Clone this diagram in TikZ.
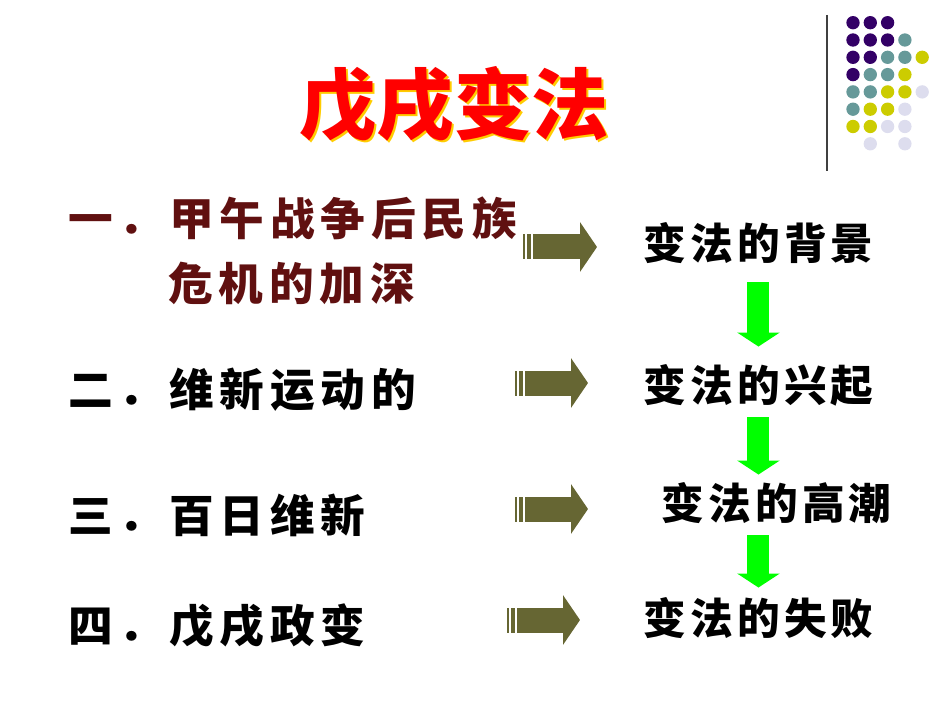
\documentclass[tikz,border=0pt]{standalone}
\usepackage{fontspec}
\usetikzlibrary{
  arrows.meta,
  positioning,
  calc,
}
\newfontfamily\cjkhead{Noto Sans CJK SC}
\newfontfamily\cjkleft[LetterSpace=13]{Noto Sans CJK SC}
\newfontfamily\cjkright[LetterSpace=10]{Noto Sans CJK SC}
\definecolor{headred}{RGB}{255,0,0}
\definecolor{headshade}{RGB}{255,204,0}
\definecolor{darkmaroon}{RGB}{96,16,16}
\definecolor{olivearrow}{RGB}{102,102,51}
\definecolor{brightgreen}{RGB}{0,255,0}
\definecolor{dotP}{RGB}{51,0,102}
\definecolor{dotT}{RGB}{102,153,153}
\definecolor{dotY}{RGB}{204,204,0}
\definecolor{dotL}{RGB}{221,221,238}
\def\mydotdist{17.3}
\def\mydotrad{5pt}
% olive block arrow with two bars at its tail
\newcommand{\blockarrow}[2]{
  \fill[my bar] (#1) ++(0,-12.5) rectangle ++(2,25);
  \fill[my bar] (#1) ++(4,-12.5) rectangle ++(4,25);
  \draw[my block] (#1) ++(10,0) -- (#2);
}
\tikzset{
  my head/.style={
    font=\cjkhead\bfseries\fontsize{58}{58}\selectfont,
    inner sep=0,
    text height=48.1pt,
    text depth=4.1pt
  },
  my topic/.style={
    font=\cjkleft\bfseries\fontsize{33.5}{33.5}\selectfont,
    anchor=west,
    inner sep=0,
    text height=27.8pt,
    text depth=2.3pt
  },
  my stage/.style={
    font=\cjkright\bfseries\fontsize{32}{32}\selectfont,
    anchor=west,
    inner sep=0,
    text height=26.6pt,
    text depth=2.2pt
  },
  my bar/.style={
    fill=olivearrow
  },
  my block/.style={
    draw=olivearrow,
    line width=18.75pt,
    -{Triangle[width=36.75pt,length=12.75pt]}
  },
  my down/.style={
    draw=brightgreen,
    line width=16.5pt,
    -{Triangle[width=31.5pt,length=10.5pt]}
  },
  my rule/.style={
    draw=black!75,
    line width=1.1pt
  }
}
\begin{document}
\begin{tikzpicture}[x=0.75pt,y=-0.75pt]
\useasboundingbox (0,0) rectangle (950,713);
% dots in the corner
\draw[my rule] (827,15) -- (827,171);
\foreach \c/\r/\k in {0/0/dotP,1/0/dotP,2/0/dotP,
                      0/1/dotP,1/1/dotP,2/1/dotP,3/1/dotT,
                      0/2/dotP,1/2/dotP,2/2/dotT,3/2/dotT,4/2/dotY,
                      0/3/dotP,1/3/dotT,2/3/dotT,3/3/dotY,
                      0/4/dotT,1/4/dotT,2/4/dotY,3/4/dotY,4/4/dotL,
                      0/5/dotT,1/5/dotY,2/5/dotY,3/5/dotL,
                      0/6/dotY,1/6/dotY,2/6/dotL,3/6/dotL,
                      1/7/dotL,3/7/dotL}
  \fill[\k] ({853+\c*\mydotdist},{22.7+\r*\mydotdist}) circle (\mydotrad);
% title
\node[my head,text=headshade] (shade) at (456,106) {戊戌变法};
\node[my head,text=headred]   (title) at (454,104) {戊戌变法};
% left column
\node[my topic,text=darkmaroon] (t1)  at (68,219)  {一．甲午战争后民族};
\node[my topic,text=darkmaroon] (t1b) at (168,283) {危机的加深};
\node[my topic] (t2) at (68,389) {二．维新运动的};
\node[my topic] (t3) at (68,515) {三．百日维新};
\node[my topic] (t4) at (68,625) {四．戊戌政变};
% right column
\node[my stage] (s1) at (643,243) {变法的背景};
\node[my stage] (s2) at (643,385) {变法的兴起};
\node[my stage] (s3) at (661,503) {变法的高潮};
\node[my stage] (s4) at (643,618) {变法的失败};
% olive arrows
\coordinate (a1) at (523,247); \coordinate (b1) at (597,247);
\coordinate (a2) at (515,383); \coordinate (b2) at (588,383);
\coordinate (a3) at (515,509); \coordinate (b3) at (588,509);
\coordinate (a4) at (507,620); \coordinate (b4) at (580,620);
\blockarrow{a1}{b1}
\blockarrow{a2}{b2}
\blockarrow{a3}{b3}
\blockarrow{a4}{b4}
% green arrows
\draw[my down,shorten <=15pt,shorten >=14.25pt] (s1.south) -- (s2.north);
\draw[my down,shorten <=9.75pt,shorten >=6.75pt] (s2.south) -- (s2.south |- s3.north);
\draw[my down,shorten <=9.75pt,shorten >=8.25pt] (s3.south -| s4.south) -- (s4.north);
\end{tikzpicture}
\end{document}
